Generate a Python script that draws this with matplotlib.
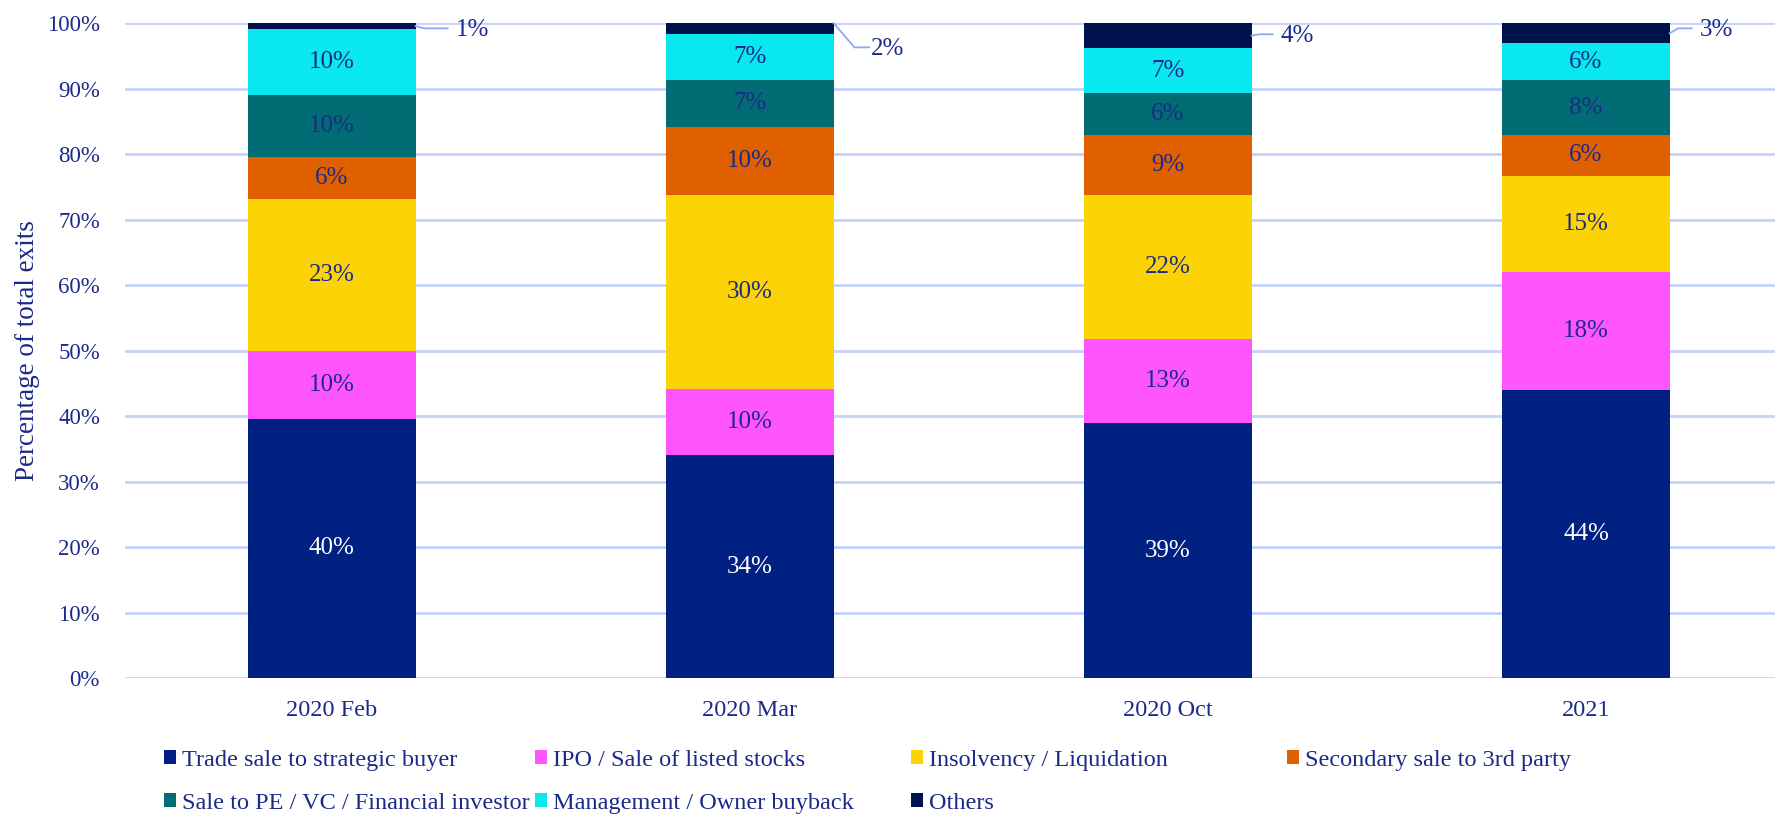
import matplotlib
matplotlib.use("Agg")
import matplotlib.pyplot as plt
from matplotlib.patches import Patch
import numpy as np

plt.rcParams['font.family'] = ['Liberation Serif', 'DejaVu Serif']

categories = ["2020 Feb", "2020 Mar", "2020 Oct", "2021"]
series_names = [
    "Trade sale to strategic buyer",
    "IPO / Sale of listed stocks",
    "Insolvency / Liquidation",
    "Secondary sale to 3rd party",
    "Sale to PE / VC / Financial investor",
    "Management / Owner buyback",
    "Others",
]
trade_sale = [39.6, 34.0, 38.9, 44.0]
ipo = [10.3, 10.2, 12.9, 18.0]
insolvency = [23.2, 29.6, 22.0, 14.7]
secondary = [6.4, 10.4, 9.1, 6.2]
pe_vc = [9.6, 7.1, 6.4, 8.4]
management = [10.0, 7.0, 6.9, 5.6]
others = [0.9, 1.7, 3.8, 3.1]
y_ticks = [0, 10, 20, 30, 40, 50, 60, 70, 80, 90, 100]

series = [trade_sale, ipo, insolvency, secondary, pe_vc, management, others]
colors = ["#002082", "#FF55FF", "#FCD405", "#E06000", "#026C74", "#08E8EE", "#00124E"]
label_colors = ["white", "#1B2A8A", "#1B2A8A", "#1B2A8A", "#1B2A8A", "#1B2A8A", "#1B2A8A"]
navy = "#1B2A8A"
grid_col = "#C5D3FA"

fig = plt.figure(figsize=(17.75, 8.14), dpi=100)
ax = fig.add_axes([0.0704, 0.167, 0.9296, 0.8046])

x = np.arange(len(categories))
width = 0.40
bottom = np.zeros(len(categories))
for vals, col, lc, name in zip(series, colors, label_colors, series_names):
    v = np.array(vals)
    ax.bar(x, v, width, bottom=bottom, color=col, label=name, zorder=3,
           edgecolor="none")
    if name != "Others":
        for xi, b, val in zip(x, bottom, v):
            ax.text(xi, b + val / 2, f"{val:.0f}%", ha="center", va="center",
                    color=lc, fontsize=18, zorder=4)
    else:
        # callout labels for the thin top segment
        offsets = [(0.297, 98.9, 'a'), (0.29, 96.0, 'b'), (0.27, 98.0, 'a'), (0.273, 98.9, 'a')]
        for xi, b, val, (dx, ty, kind) in zip(x, bottom, v, offsets):
            ax.text(xi + dx, ty, f"{val:.0f}%", ha="left", va="center",
                    color=navy, fontsize=18, zorder=4, clip_on=False)
            x0 = xi + width / 2
            y0 = b + val / 2
            if kind == 'b':
                ax.plot([x0, x0 + 0.05, x0 + 0.085], [b + val, ty + 0.3, ty + 0.3],
                        color="#8FA8F0", lw=1.3, zorder=4, clip_on=False)
            else:
                ax.plot([x0, x0 + 0.02, dx + xi - 0.02], [y0, ty + 0.3, ty + 0.3],
                        color="#8FA8F0", lw=1.3, zorder=4, clip_on=False)
    bottom = bottom + v

ax.set_ylim(0, 100)
ax.set_xlim(-0.495, 3.452)
ax.set_yticks(y_ticks)
ax.set_yticklabels([f"{t}%" for t in y_ticks])
ax.set_xticks(x)
ax.set_xticklabels(categories)
ax.tick_params(axis="both", length=0, colors=navy)
ax.tick_params(axis="x", pad=16, labelsize=17.5)
ax.tick_params(axis="y", pad=18, labelsize=16.5)
ax.yaxis.grid(True, color=grid_col, lw=2, zorder=0)
ax.set_axisbelow(True)
for s in ax.spines.values():
    s.set_visible(False)
ax.set_ylabel("Percentage of total exits", fontsize=19.5, color=navy)
ax.yaxis.set_label_coords(-0.0515, 0.5)

# legend: 4 columns laid out on a fixed grid
handles = [Patch(facecolor=c, edgecolor="none") for c in colors]
col_groups = [[0, 4], [1, 5], [2, 6], [3]]
col_x = [0.0924, 0.3014, 0.5132, 0.7251]
for gx, grp in zip(col_x, col_groups):
    leg = fig.legend([handles[i] for i in grp], [series_names[i] for i in grp],
                     loc="upper left", bbox_to_anchor=(gx, 0.079), frameon=False,
                     fontsize=17.5, handlelength=0.5, handleheight=0.5,
                     handletextpad=0.25, labelspacing=0.9, borderaxespad=0,
                     borderpad=0)
    for t in leg.get_texts():
        t.set_color(navy)

fig.savefig("out.png", dpi=100)
